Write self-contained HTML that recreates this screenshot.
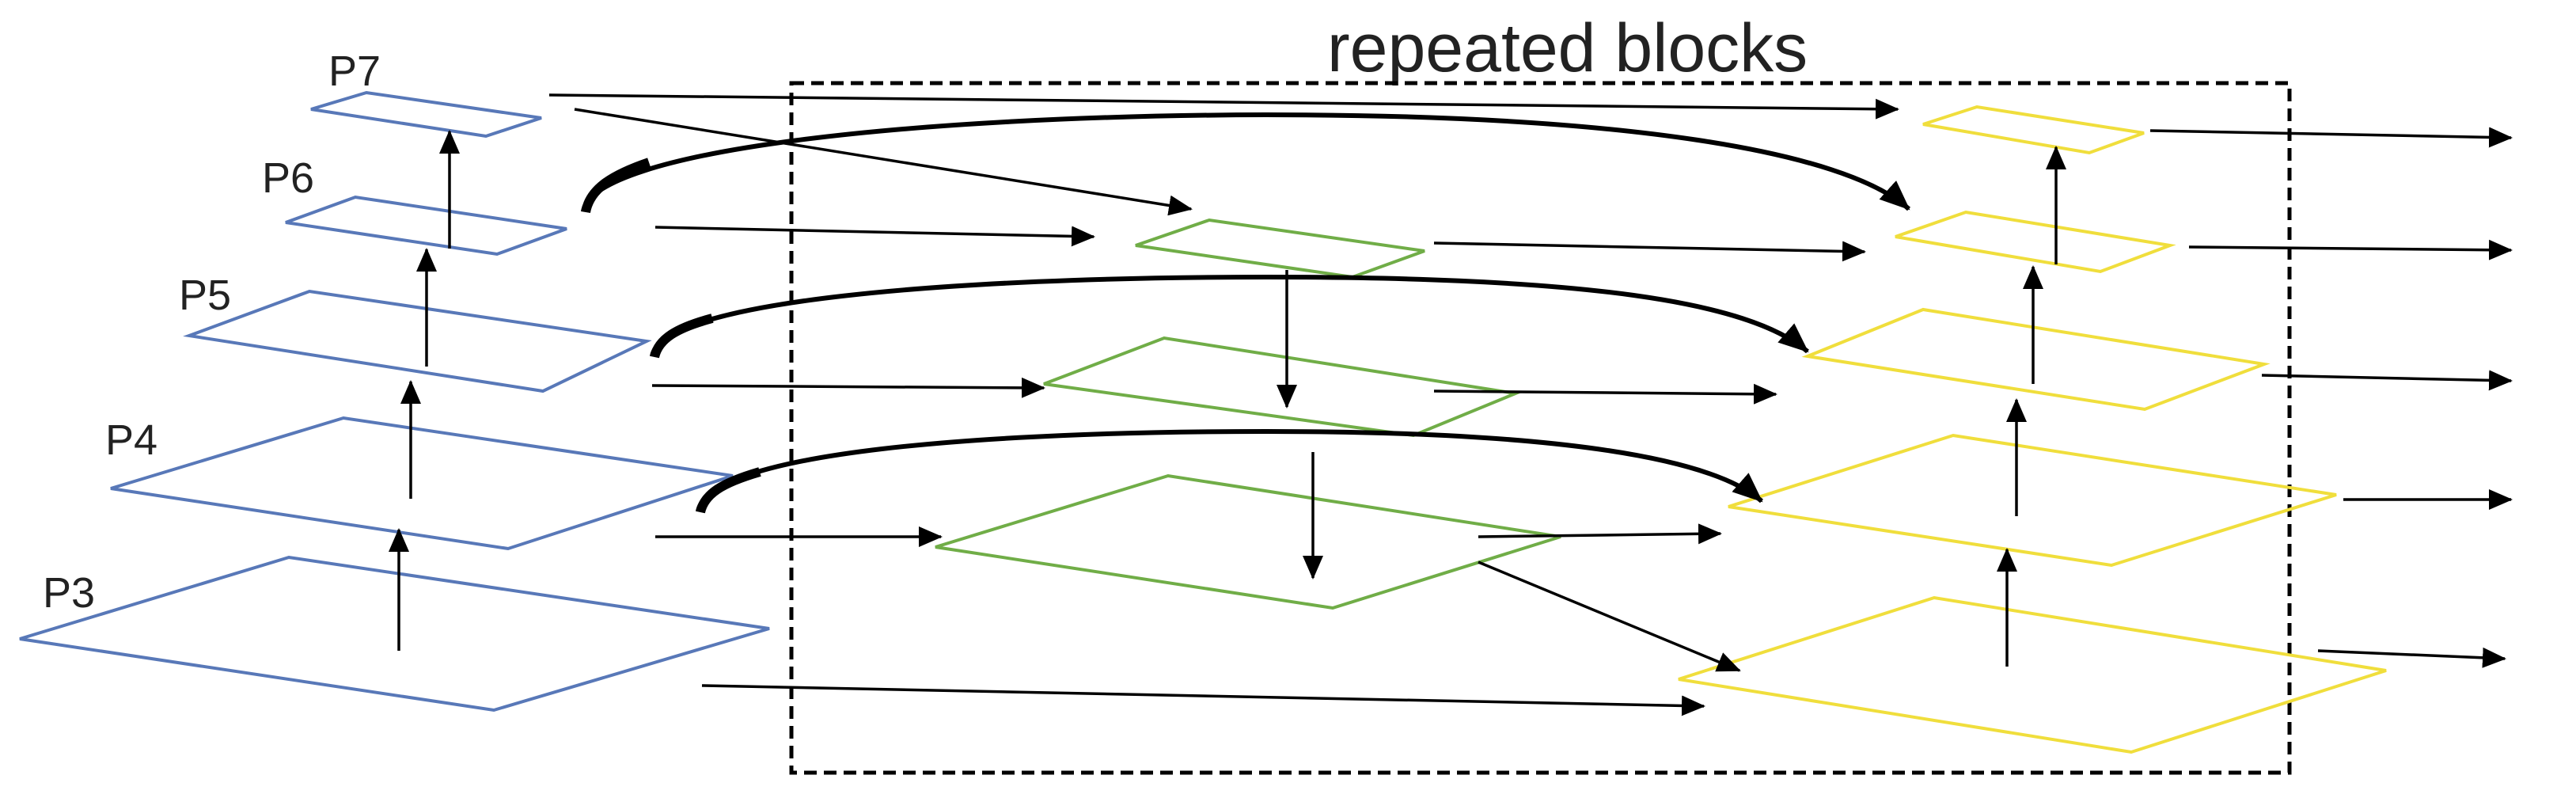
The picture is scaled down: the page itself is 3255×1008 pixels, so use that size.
<!DOCTYPE html>
<html><head><meta charset="utf-8"><style>
html,body{margin:0;padding:0;background:#fff;}
svg{display:block;}
text{font-family:"Liberation Sans",sans-serif;fill:#222;}
</style></head><body>
<svg width="3255" height="1008" viewBox="0 0 3255 1008" xmlns="http://www.w3.org/2000/svg">
<defs>
<marker id="a" markerUnits="userSpaceOnUse" markerWidth="30" markerHeight="26" refX="28" refY="13" orient="auto">
<path d="M0,0 L30,13 L0,26 Z" fill="#000"/></marker>
<marker id="b" markerUnits="userSpaceOnUse" markerWidth="40" markerHeight="40" refX="36" refY="20" orient="auto">
<path d="M0,4 L38,20 L0,36 Z" fill="#000"/></marker>
</defs>
<text x="1677" y="90" font-size="86">repeated blocks</text>
<rect x="1000" y="105" width="1893" height="871" fill="none" stroke="#000" stroke-width="5" stroke-dasharray="16,9"/>
<g font-size="54">
<text x="415" y="108">P7</text><text x="331" y="243">P6</text><text x="226" y="391">P5</text><text x="133" y="574">P4</text><text x="54" y="767">P3</text>
</g>
<g fill="none" stroke="#5878b8" stroke-width="4">
<polygon points="393,138 463,117 684,149 614,172"/>
<polygon points="361,281 449,249 716,289 628,321"/>
<polygon points="239,424 391,368 817,431 686,494"/>
<polygon points="140,617 434,528 926,601 642,693"/>
<polygon points="25,807 365,704 972,794 624,897"/>
</g>
<g fill="none" stroke="#70ad47" stroke-width="4">
<polygon points="1435,310 1528,278 1800,317 1709,350"/>
<polygon points="1319,485 1471,427 1915,497 1786,550"/>
<polygon points="1182,691 1476,601 1972,678 1684,768"/>
</g>
<g fill="none" stroke="#f0de3c" stroke-width="4">
<polygon points="2430,157 2498,135 2709,168 2640,193"/>
<polygon points="2395,299 2484,268 2742,310 2654,343"/>
<polygon points="2284,450 2430,391 2861,460 2710,517"/>
<polygon points="2184,640 2468,550 2952,625 2668,714"/>
<polygon points="2121,858 2444,755 3015,847 2693,950"/>
</g>
<g stroke="#000" stroke-width="3.5" marker-end="url(#a)">
<line x1="568" y1="314" x2="568" y2="166"/>
<line x1="539" y1="463" x2="539" y2="315"/>
<line x1="519" y1="630" x2="519" y2="482"/>
<line x1="504" y1="822" x2="504" y2="669"/>
<line x1="694" y1="120" x2="2398" y2="138"/>
<line x1="726" y1="138" x2="1505" y2="264"/>
<line x1="828" y1="287" x2="1382" y2="299"/>
<line x1="824" y1="487" x2="1319" y2="490"/>
<line x1="828" y1="678" x2="1189" y2="678"/>
<line x1="887" y1="866" x2="2153" y2="892"/>
<line x1="1812" y1="307" x2="2356" y2="318"/>
<line x1="1812" y1="494" x2="2244" y2="498"/>
<line x1="1868" y1="678" x2="2174" y2="674"/>
<line x1="1868" y1="710" x2="2198" y2="847"/>
<line x1="1626" y1="341" x2="1626" y2="514"/>
<line x1="1659" y1="571" x2="1659" y2="730"/>
<line x1="2598" y1="334" x2="2598" y2="186"/>
<line x1="2569" y1="485" x2="2569" y2="337"/>
<line x1="2548" y1="652" x2="2548" y2="505"/>
<line x1="2536" y1="842" x2="2536" y2="694"/>
<line x1="2717" y1="165" x2="3173" y2="174"/>
<line x1="2766" y1="312" x2="3173" y2="316"/>
<line x1="2858" y1="474" x2="3173" y2="481"/>
<line x1="2961" y1="631" x2="3173" y2="631"/>
<line x1="2929" y1="822" x2="3165" y2="832"/>
</g>
<g fill="none" stroke="#000" stroke-width="6" marker-end="url(#b)">
<path d="M737,267 C750,190 1150,146 1600,145 C2050,145 2330,190 2412,264"/>
<path d="M824,450 C835,380 1200,350 1600,350 C2000,350 2210,380 2284,444"/>
<path d="M882,646 C895,570 1250,545 1600,545 C1950,545 2160,575 2226,633"/>
</g>
<g fill="none" stroke="#000" stroke-width="12">
<path d="M740,268 C745,240 770,222 820,205"/>
<path d="M827,451 C832,428 855,414 900,402"/>
<path d="M885,647 C890,624 912,610 960,596"/>
</g>
</svg>
</body></html>
